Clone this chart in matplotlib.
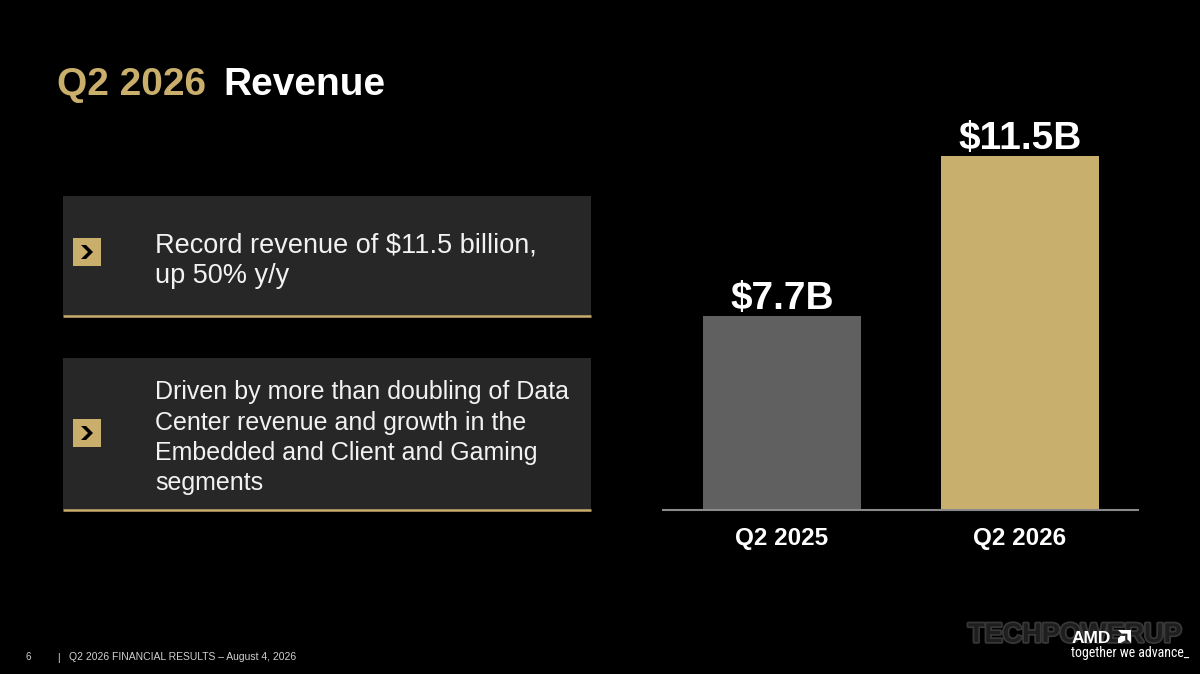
import matplotlib
matplotlib.use("Agg")
import matplotlib.pyplot as plt
from matplotlib.patches import Rectangle, Polygon
import matplotlib.patheffects as pe

FONT = "Liberation Sans"
plt.rcParams['font.family'] = FONT
plt.rcParams['font.sans-serif'] = [FONT]

# ---- data ----
categories = ["Q2 2025", "Q2 2026"]
revenue_b = [7.7, 11.5]
value_labels = ["$7.7B", "$11.5B"]
title_gold = "Q2 2026"
title_white = "Revenue"
bullet1 = ["Record revenue of $11.5 billion,", "up 50% y/y"]
bullet2 = ["Driven by more than doubling of Data", "Center revenue and growth in the",
           "Embedded and Client and Gaming", "segments"]
footer_page = "6"
footer_text = "Q2 2026 FINANCIAL RESULTS \u2013 August 4, 2026"
logo_word = "AMD"
tagline = "together we advance_"
watermark = "TECHPOWERUP"

GOLD = "#C9AE6C"
BOX = "#272727"
GRAY_BAR = "#606060"
W, H = 1200, 674

fig = plt.figure(figsize=(12, 6.74), dpi=100, facecolor="black")

bg = fig.add_axes([0, 0, 1, 1])
bg.set_xlim(0, W)
bg.set_ylim(H, 0)
bg.axis("off")
bg.set_facecolor("black")

def T(x, y, s, **kw):
    kw.setdefault("family", FONT)
    kw.setdefault("va", "baseline")
    kw.setdefault("ha", "left")
    return bg.text(x, y, s, **kw)

# title
T(57, 95, title_gold, color=GOLD, fontsize=28, fontweight="bold")
T(223, 95, title_white, color="white", fontsize=28, fontweight="bold")

def bullet_box(y0, y1, icon_y, lines, baselines, fs):
    bg.add_patch(Rectangle((63, y0), 528, y1 - y0, facecolor=BOX, edgecolor="none"))
    bg.plot([63, 591], [y1, y1], color=GOLD, lw=1.8, solid_capstyle="butt")
    bg.add_patch(Rectangle((73, icon_y), 28, 28, facecolor=GOLD, edgecolor="none"))
    cx, cy = 87, icon_y + 14
    bg.add_patch(Polygon([(cx - 6, cy - 7), (cx - 1, cy - 7), (cx + 6, cy), (cx - 1, cy + 7),
                          (cx - 6, cy + 7), (cx + 1, cy)], closed=True, facecolor="black",
                         edgecolor="none"))
    for ln, b in zip(lines, baselines):
        T(155, b, ln, color="#F2F2F2", fontsize=fs)

bullet_box(196, 316, 238, bullet1, [252, 283], 19.5)
bullet_box(358, 510, 419, bullet2, [399, 430, 460, 490], 18)

# footer
T(25, 660, footer_page, color="#D0D0D0", fontsize=7)
T(57, 661, "|", color="#D0D0D0", fontsize=7.5)
T(69, 660, footer_text, color="#D0D0D0", fontsize=7.5)

# watermark + logo
T(968, 642, watermark, color="#1E1E1E", fontsize=19.5, fontweight="bold", zorder=1,
  path_effects=[pe.withStroke(linewidth=2.5, foreground="#383838")])
T(1072, 643, logo_word, color="white", fontsize=12.5, fontweight="bold", zorder=3)
lx, ly = 1118, 630
s = 13
bg.add_patch(Polygon([(lx, ly), (lx + s, ly), (lx + s, ly + s), (lx + s * 0.72, ly + s * 0.72),
                      (lx + s * 0.72, ly + s * 0.28), (lx + s * 0.28, ly + s * 0.28)],
                     closed=True, facecolor="white", zorder=3))
bg.add_patch(Polygon([(lx + s * 0.2, ly + s * 0.45), (lx + s * 0.55, ly + s * 0.45),
                      (lx + s * 0.55, ly + s * 0.8), (lx + s * 0.2, ly + s),
                      (lx, ly + s), (lx, ly + s * 0.65)], closed=True, facecolor="white", zorder=3))
T(1071, 657, tagline, color="white", fontsize=10,
  family=["Roboto Condensed", "Liberation Sans"], zorder=3)

# bar chart axes
ax = fig.add_axes([663 / W, 1 - 510 / H, 475 / W, 400 / H])
ax.set_facecolor("none")
x = list(range(len(categories)))
ax.bar(x, revenue_b, width=0.664, color=[GRAY_BAR, "#C9AF6D"], zorder=2)
ax.set_xlim(-0.5, 1.496)
ax.set_ylim(3.09, 3.09 + 400 / 42.1)
for sp in ["top", "right", "left"]:
    ax.spines[sp].set_visible(False)
ax.spines["bottom"].set_color("#8A8A8A")
ax.spines["bottom"].set_linewidth(1.5)
ax.set_yticks([])
ax.set_xticks(x)
ax.set_xticklabels(categories, color="white", fontsize=17.5, fontweight="bold", family=FONT)
ax.tick_params(axis="x", length=0, pad=12)
for xi, v, lab in zip(x, revenue_b, value_labels):
    ax.annotate(lab, (xi, v), xytext=(0, 5), textcoords="offset points", ha="center",
                va="baseline", color="white", fontsize=28, fontweight="bold", family=FONT)

fig.savefig("out.png", dpi=100, facecolor="black")
